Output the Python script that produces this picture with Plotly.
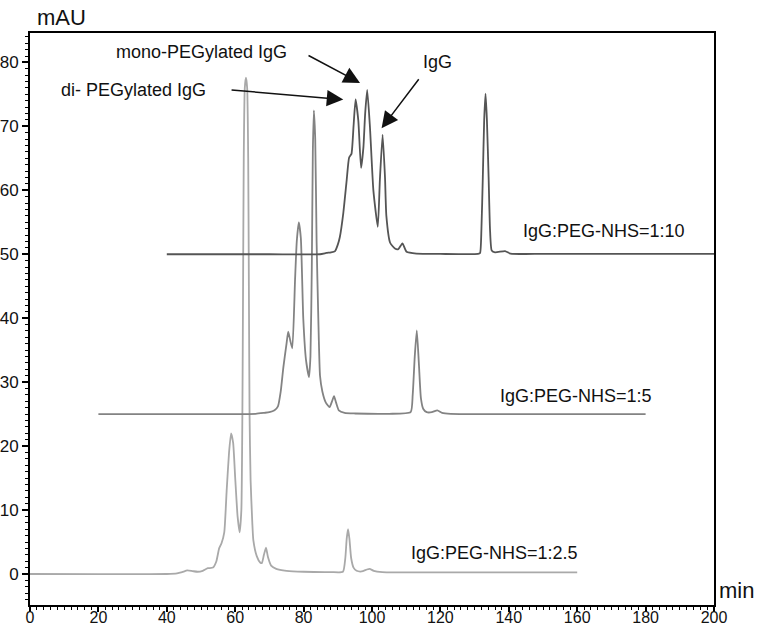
import plotly.graph_objects as go

# ---- data ----
# IgG:PEG-NHS = 1:2.5  (baseline 0)
t_25 = [0, 40, 43, 44.5, 46, 47.5, 49, 50.5, 52, 53.5, 54.5, 55.3, 56, 56.8, 57.5, 58.2, 58.8, 59.4,
        60, 60.7, 61.3, 61.8, 62.1, 62.3, 62.5, 62.8, 63.15, 63.5, 63.8, 64.0, 64.2, 64.5, 65.0, 65.3,
        66.3, 67.3, 67.8, 68.4, 69.0, 69.6, 70.5, 72, 75, 80, 88, 91.5, 92.2, 92.6, 93.0, 93.4, 93.9,
        94.6, 95.5, 97, 98.5, 99.3, 100.5, 103, 110, 130, 160]
v_25 = [0, 0, 0.1, 0.3, 0.55, 0.45, 0.35, 0.5, 0.9, 1.0, 2.0, 4.0, 4.8, 6.5, 13, 19, 22, 20.5,
        15, 9, 6.5, 10, 25, 45, 65, 76, 77.6, 76, 65, 45, 25, 14.7, 8, 5.3,
        2.8, 1.8, 1.7, 3.0, 4.1, 2.6, 1.3, 0.8, 0.5, 0.35, 0.3, 0.35, 2.5, 5.5, 7.0, 5.5, 2.5,
        1.0, 0.5, 0.4, 0.7, 0.8, 0.5, 0.3, 0.25, 0.25, 0.25]

# IgG:PEG-NHS = 1:5  (baseline 25)
t_5 = [20, 60, 66, 68.5, 70, 71.5, 72.5, 73.3, 74.1, 75.0, 75.5, 76.1, 76.7, 77.5, 78.0, 78.6, 79.2,
       79.9, 80.7, 81.6, 82.0, 82.4, 82.7, 83.0, 83.4, 83.8, 84.3, 84.8, 85.5, 86.5, 87.6, 88.3, 88.9,
       89.5, 90.3, 92, 95, 105, 111.3, 111.9, 112.5, 113.1, 113.7, 114.3, 115.0, 116, 117.5, 119.1,
       120.5, 123, 140, 180]
v_5 = [25, 25, 25.05, 25.2, 25.3, 25.6, 26.2, 28.5, 32.4, 36, 37.9, 36.5, 35.3, 46, 52, 55, 52.5,
       40, 33.5, 30.8, 34, 48, 66, 72.5, 68, 52, 40, 31, 28.5, 26.8, 26.1, 27.0, 27.8,
       26.8, 25.6, 25.2, 25.1, 25.05, 25.3, 28, 34, 38.1, 33, 27.5, 25.8, 25.3, 25.3, 25.6,
       25.2, 25.05, 25.0, 25.0]

# IgG:PEG-NHS = 1:10  (baseline 50)
t_10 = [40, 70, 84.8, 86.7, 88, 89.2, 90.0, 90.6, 91.6, 92.6, 93.3, 94.0, 94.6, 95.2, 96.0, 96.8,
        97.5, 98.0, 98.6, 99.4, 100.4, 101.7, 102.3, 103.1, 103.8, 104.2, 105.3, 106.7, 107.7,
        108.9, 110.1, 113, 120, 131.0, 131.6, 132.0, 132.4, 132.8, 133.2, 133.6, 134.1, 134.5,
        135.0, 136.0, 138.9, 140.5, 150, 200]
v_10 = [50, 50, 50.0, 50.2, 50.3, 50.5, 51.5, 52.7, 56.4, 61.6, 65.1, 65.7, 70, 74.2, 70.9, 63.5,
        66.8, 72, 75.7, 69.9, 60, 54.3, 61.6, 68.7, 62, 56, 51.8, 50.9, 50.8,
        51.7, 50.4, 50.1, 50.05, 50.05, 50.2, 54, 62, 71, 75.1, 71, 62, 54,
        50.6, 50.3, 50.5, 50.1, 50.05, 50.05]

series_names = ["IgG:PEG-NHS=1:2.5", "IgG:PEG-NHS=1:5", "IgG:PEG-NHS=1:10"]
x_ticks = [0, 20, 40, 60, 80, 100, 120, 140, 160, 180, 200]
y_ticks = [0, 10, 20, 30, 40, 50, 60, 70, 80]

FONT = "Liberation Sans, Arial, sans-serif"

fig = go.Figure()
for t, v, col, nm in [(t_25, v_25, "#a9a9a9", series_names[0]),
                      (t_5, v_5, "#838383", series_names[1]),
                      (t_10, v_10, "#555555", series_names[2])]:
    fig.add_trace(go.Scatter(x=t, y=v, mode="lines", name=nm,
                             line=dict(color=col, width=1.8, shape="spline", smoothing=0.5),
                             showlegend=False))

# series labels
label_pos = [(110.8, 3.3), (136.8, 27.9), (143.6, 53.6)]
for (lx, ly), nm in zip(label_pos, series_names):
    fig.add_annotation(x=lx, y=ly, text=nm, showarrow=False, xanchor="left", yanchor="middle",
                       font=dict(family=FONT, size=18, color="#111"))

# peak labels (text)
peak_labels = [("mono-PEGylated IgG", 50.0, 81.7),
               ("di- PEGylated IgG", 30.2, 75.7),
               ("IgG", 119.2, 80.0)]
for txt, px, py in peak_labels:
    fig.add_annotation(x=px, y=py, text=txt, showarrow=False, xanchor="center", yanchor="middle",
                       font=dict(family=FONT, size=18, color="#111"))

# arrows: (tail_x, tail_y, head_x, head_y)
arrows = [(81.0, 81.2, 96.5, 76.8),
          (58.5, 75.7, 91.6, 74.2),
          (114.0, 77.6, 102.8, 69.7)]
for ax_, ay_, hx, hy in arrows:
    fig.add_annotation(x=hx, y=hy, ax=ax_, ay=ay_, xref="x", yref="y", axref="x", ayref="y",
                       text="", showarrow=True, arrowhead=2, arrowsize=2.2, arrowwidth=1.5,
                       arrowcolor="#111", standoff=0, startstandoff=0)

W, H = 759, 629
L, R, T, B = 30, 45, 33, 24
pw, ph = W - L - R, H - T - B

# axis titles (placed in paper coordinates)
fig.add_annotation(xref="paper", yref="paper", x=(35 - L) / pw, y=1 + (T - 17) / ph,
                   text="mAU", showarrow=False, xanchor="left", yanchor="middle",
                   font=dict(family=FONT, size=22, color="#111"))
fig.add_annotation(xref="paper", yref="paper", x=(717 - L) / pw, y=(H - B - 590) / ph,
                   text="min", showarrow=False, xanchor="left", yanchor="middle",
                   font=dict(family=FONT, size=22, color="#111"))

fig.update_layout(
    width=W, height=H,
    margin=dict(l=L, r=R, t=T, b=B),
    paper_bgcolor="white", plot_bgcolor="white",
    font=dict(family=FONT, size=17, color="#111"),
    xaxis=dict(range=[0, 200], tickvals=x_ticks, ticks="outside", ticklen=5, tickwidth=1.5,
               tickcolor="black", showline=True, linecolor="black", linewidth=2, mirror=True,
               showgrid=False, zeroline=False, automargin=False, ticklabelstandoff=-8,
               tickfont=dict(family=FONT, size=16, color="#111"),
               minor=dict(dtick=2, ticks="outside", ticklen=3, tickwidth=1, tickcolor="black",
                          showgrid=False)),
    yaxis=dict(range=[-4.85, 84.6], tickvals=y_ticks, ticks="outside", ticklen=6, tickwidth=1.5,
               tickcolor="black", showline=True, linecolor="black", linewidth=2, mirror=True,
               showgrid=False, zeroline=False, automargin=False,
               tickfont=dict(family=FONT, size=17, color="#111"),
               minor=dict(dtick=1, ticks="outside", ticklen=3, tickwidth=1, tickcolor="black",
                          showgrid=False)),
)

fig.write_html("out.html")
